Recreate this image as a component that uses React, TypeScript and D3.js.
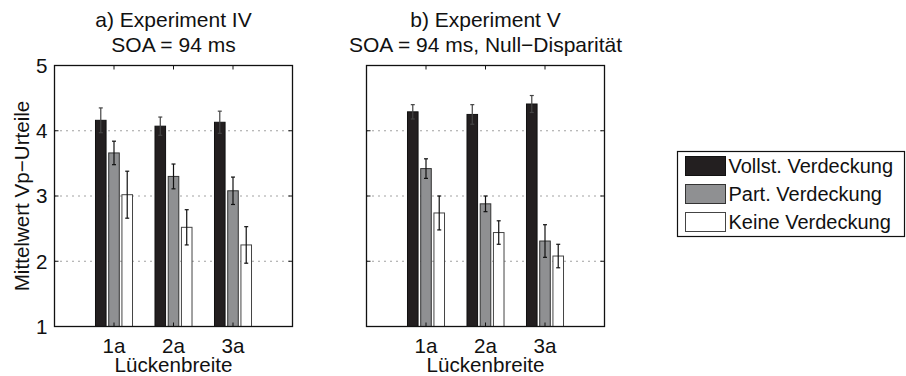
import React from "react";
import * as d3 from "d3";

const categories = ["1a", "2a", "3a"];
const seriesNames = ["Vollst. Verdeckung", "Part. Verdeckung", "Keine Verdeckung"];
const seriesFill = ["#231f20", "#8f9092", "#ffffff"];
const seriesStroke = ["#111111", "#333333", "#444444"];
const yTicks = [1, 2, 3, 4, 5];

const expIVVoll = [4.16, 4.07, 4.13];
const expIVVollErr = [0.19, 0.14, 0.17];
const expIVPart = [3.66, 3.3, 3.08];
const expIVPartErr = [0.18, 0.19, 0.21];
const expIVKeine = [3.02, 2.52, 2.25];
const expIVKeineErr = [0.36, 0.27, 0.28];

const expVVoll = [4.29, 4.25, 4.41];
const expVVollErr = [0.11, 0.15, 0.13];
const expVPart = [3.42, 2.88, 2.31];
const expVPartErr = [0.15, 0.12, 0.25];
const expVKeine = [2.74, 2.44, 2.08];
const expVKeineErr = [0.26, 0.18, 0.18];

const titlesA = ["a) Experiment IV", "SOA = 94 ms"];
const titlesB = ["b) Experiment V", "SOA = 94 ms, Null\u2212Disparit\u00e4t"];
const xLabel = "L\u00fcckenbreite";
const yLabel = "Mittelwert Vp\u2212Urteile";

const FONT = "'Liberation Sans', Arial, Helvetica, sans-serif";
const FS_TITLE = 21;
const FS = 20.6;
const FS_LEG = 20;

type PanelProps = {
  x0: number;
  x1: number;
  titles: string[];
  values: number[][];
  errors: number[][];
  showYLabels: boolean;
};

const Y0 = 65.5;
const Y1 = 326.5;

function Panel({ x0, x1, titles, values, errors, showYLabels }: PanelProps) {
  const x = d3.scaleLinear().domain([0, 4]).range([x0, x1]);
  const y = d3.scaleLinear().domain([1, 5]).range([Y1, Y0]);
  const groupWidth = Math.min(0.8, 3 / (3 + 1.5));
  const step = groupWidth / 3;
  const bw = step * 0.8;
  const cx = (x0 + x1) / 2;
  const tick = 4;
  return (
    <g>
      {titles.map((t, i) => (
        <text key={i} x={cx} y={27 + i * 25} textAnchor="middle" fontSize={FS_TITLE} fontFamily={FONT} fill="#111">
          {t}
        </text>
      ))}
      {[2, 3, 4].map((v) => (
        <line key={v} x1={x0} x2={x1} y1={y(v)} y2={y(v)} stroke="#444" strokeWidth={1} strokeDasharray="1,5" />
      ))}
      {values.map((vals, s) =>
        vals.map((v, c) => {
          const center = c + 1 + (s - 1) * step;
          const bx = x(center - bw / 2);
          const bwPx = x(center + bw / 2) - bx;
          return (
            <rect
              key={`b${s}-${c}`}
              x={bx}
              y={y(v)}
              width={bwPx}
              height={y(1) - y(v)}
              fill={seriesFill[s]}
              stroke={seriesStroke[s]}
              strokeWidth={1}
            />
          );
        })
      )}
      {values.map((vals, s) =>
        vals.map((v, c) => {
          const center = x(c + 1 + (s - 1) * step);
          const e = errors[s][c];
          const col = s === 0 ? "#444" : "#111";
          return (
            <g key={`e${s}-${c}`} stroke={col} strokeWidth={1.2}>
              <line x1={center} x2={center} y1={y(v + e)} y2={y(v - e)} />
              <line x1={center - 2} x2={center + 2} y1={y(v + e)} y2={y(v + e)} />
              <line x1={center - 2} x2={center + 2} y1={y(v - e)} y2={y(v - e)} />
            </g>
          );
        })
      )}
      <rect x={x0} y={Y0} width={x1 - x0} height={Y1 - Y0} fill="none" stroke="#111" strokeWidth={1.3} />
      {yTicks.map((v) => (
        <g key={`yt${v}`} stroke="#111" strokeWidth={1}>
          <line x1={x0} x2={x0 + tick} y1={y(v)} y2={y(v)} />
          <line x1={x1} x2={x1 - tick} y1={y(v)} y2={y(v)} />
        </g>
      ))}
      {showYLabels &&
        yTicks.map((v) => (
          <text key={`yl${v}`} x={x0 - 7} y={y(v)} dy="0.36em" textAnchor="end" fontSize={FS} fontFamily={FONT} fill="#111">
            {v}
          </text>
        ))}
      {categories.map((c, i) => (
        <g key={`xt${c}`} stroke="#111" strokeWidth={1}>
          <line x1={x(i + 1)} x2={x(i + 1)} y1={Y1} y2={Y1 - tick} />
          <line x1={x(i + 1)} x2={x(i + 1)} y1={Y0} y2={Y0 + tick} />
        </g>
      ))}
      {categories.map((c, i) => (
        <text key={`xl${c}`} x={x(i + 1)} y={352.5} textAnchor="middle" fontSize={FS} fontFamily={FONT} fill="#111">
          {c}
        </text>
      ))}
      <text x={cx} y={372} textAnchor="middle" fontSize={FS} fontFamily={FONT} fill="#111">
        {xLabel}
      </text>
    </g>
  );
}

export default function App() {
  const legendRows = [166, 194, 222];
  return (
    <svg
      width={906}
      height={376}
      viewBox="0 0 906 376"
      style={{ position: "absolute", left: 0, top: 0, background: "#fff" }}
    >
      <rect x={0} y={0} width={906} height={376} fill="#fff" />
      <Panel
        x0={54.5}
        x1={292.5}
        titles={titlesA}
        values={[expIVVoll, expIVPart, expIVKeine]}
        errors={[expIVVollErr, expIVPartErr, expIVKeineErr]}
        showYLabels={true}
      />
      <Panel
        x0={366.5}
        x1={604.5}
        titles={titlesB}
        values={[expVVoll, expVPart, expVKeine]}
        errors={[expVVollErr, expVPartErr, expVKeineErr]}
        showYLabels={false}
      />
      <text
        transform={`translate(29,${(Y0 + Y1) / 2}) rotate(-90)`}
        textAnchor="middle"
        fontSize={FS}
        fontFamily={FONT}
        fill="#111"
      >
        {yLabel}
      </text>
      <rect x={677.5} y={151.5} width={227} height={85} fill="#fff" stroke="#111" strokeWidth={1.2} />
      {seriesNames.map((n, i) => (
        <g key={n}>
          <rect
            x={685.5}
            y={legendRows[i] - 9.5}
            width={40}
            height={19}
            fill={seriesFill[i]}
            stroke={seriesStroke[i]}
            strokeWidth={1}
          />
          <text x={728.5} y={legendRows[i]} dy="0.36em" fontSize={FS_LEG} fontFamily={FONT} fill="#111">
            {n}
          </text>
        </g>
      ))}
    </svg>
  );
}
